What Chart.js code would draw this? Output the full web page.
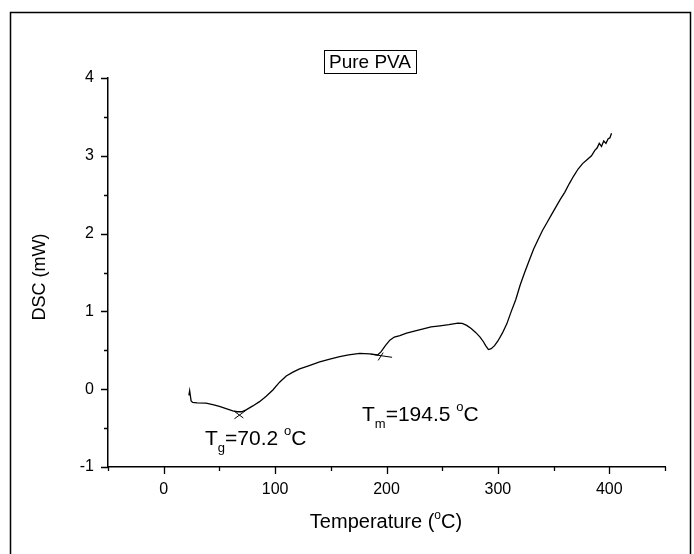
<!DOCTYPE html>
<html>
<head>
<meta charset="utf-8">
<script src="https://cdn.jsdelivr.net/npm/chart.js@4/dist/chart.umd.min.js"></script>
<style>
  body { margin: 0; background: #fff; }
  canvas { display: block; }
</style>
</head>
<body>
<canvas id="dsc" width="694" height="554"></canvas>
<script>
// DSC curve of pure PVA
const temperature = [22.6, 23.3, 24.6, 26, 30, 38, 45, 50, 56, 62, 66, 70, 74, 80, 86, 92, 98, 104,
  110, 116, 122, 130, 140, 150, 158, 166, 176, 185, 192, 195, 199, 203, 207, 212, 218, 225, 233,
  240, 248, 256, 264, 268, 272, 276, 280, 284, 287, 289, 291.5, 294, 297, 300, 304, 308, 312, 316,
  320, 324, 328, 332, 336, 340, 344, 348, 352, 356, 360, 364, 368, 372, 376, 380, 384, 387, 389,
  391, 393, 395, 397, 399, 400.5, 402];
const dsc = [-0.08, -0.02, -0.15, -0.17, -0.175, -0.18, -0.2, -0.22, -0.25, -0.28, -0.29, -0.29,
  -0.265, -0.215, -0.16, -0.09, -0.01, 0.09, 0.17, 0.22, 0.26, 0.3, 0.35, 0.39, 0.42, 0.44, 0.46,
  0.455, 0.44, 0.48, 0.56, 0.63, 0.67, 0.69, 0.72, 0.745, 0.775, 0.8, 0.815, 0.83, 0.85, 0.845,
  0.82, 0.78, 0.73, 0.67, 0.61, 0.56, 0.51, 0.52, 0.56, 0.62, 0.72, 0.84, 1.0, 1.15, 1.34, 1.5,
  1.65, 1.8, 1.92, 2.04, 2.14, 2.24, 2.34, 2.44, 2.53, 2.64, 2.74, 2.83, 2.9, 2.95, 3.0, 3.07,
  3.1, 3.16, 3.12, 3.19, 3.16, 3.22, 3.23, 3.29];

// tangent construction lines at Tg and Tm
const tgLineAx = [63, 71.5], tgLineAy = [-0.28, -0.37];
const tgLineBx = [63.5, 74], tgLineBy = [-0.38, -0.27];
const tmLineAx = [186, 205], tmLineAy = [0.45, 0.41];
const tmLineBx = [192.5, 197], tmLineBy = [0.37, 0.47];

const xTicks = [-50, 0, 50, 100, 150, 200, 250, 300, 350, 400, 450];
const yTicks = [-1, -0.5, 0, 0.5, 1, 1.5, 2, 2.5, 3, 3.5, 4];

const title = 'Pure PVA';
const xTitle = 'Temperature (';
const yTitle = 'DSC (mW)';

const toPoints = (xs, ys) => xs.map((x, i) => ({ x: x, y: ys[i] }));
const FONT = '"Liberation Sans", Arial, sans-serif';

function lineSet(xs, ys, w) {
  return {
    data: toPoints(xs, ys),
    showLine: true,
    borderColor: '#000',
    borderWidth: w,
    pointRadius: 0,
    tension: 0
  };
}

// text with sub/superscripts, e.g. T_g=70.2 °C
function drawRich(ctx, x, y, parts) {
  let cx = x;
  parts.forEach(p => {
    const size = p.size || 21;
    ctx.font = size + 'px ' + FONT;
    ctx.fillText(p.t, cx, y + (p.dy || 0));
    cx += ctx.measureText(p.t).width;
  });
  return cx;
}

const decorations = {
  id: 'decorations',
  afterDraw(chart) {
    const ctx = chart.ctx;
    const xs = chart.scales.x, ys = chart.scales.y;
    ctx.save();
    ctx.strokeStyle = '#000';
    ctx.fillStyle = '#000';

    // outer frame
    ctx.lineWidth = 1.5;
    ctx.strokeRect(10.5, 12.5, 680, 560);

    // tick marks (major long, minor short)
    ctx.lineWidth = 1.3;
    ctx.beginPath();
    const bottom = ys.getPixelForValue(-1);
    xTicks.forEach(v => {
      const px = Math.round(xs.getPixelForValue(v)) + 0.5;
      const len = v % 100 === 0 ? 7 : 4;
      ctx.moveTo(px, bottom);
      ctx.lineTo(px, bottom + len);
    });
    const left = xs.getPixelForValue(-50);
    yTicks.forEach(v => {
      const py = Math.round(ys.getPixelForValue(v)) + 0.5;
      const len = Number.isInteger(v) ? 7 : 4;
      ctx.moveTo(left, py);
      ctx.lineTo(left - len, py);
    });
    ctx.stroke();

    // title box
    ctx.font = '19px ' + FONT;
    ctx.textBaseline = 'alphabetic';
    const tw = ctx.measureText(title).width;
    const cxT = 370;
    ctx.lineWidth = 1;
    ctx.strokeRect(Math.round(cxT - tw / 2 - 5) + 0.5, 50.5, Math.round(tw + 10), 23);
    ctx.textAlign = 'center';
    ctx.fillText(title, cxT, 68);

    // y axis title
    ctx.save();
    ctx.translate(45, 277);
    ctx.rotate(-Math.PI / 2);
    ctx.font = '18px ' + FONT;
    ctx.fillText(yTitle, 0, 0);
    ctx.restore();

    // x axis title with degree superscript
    ctx.textAlign = 'left';
    const partsX = [
      { t: xTitle, size: 20 },
      { t: 'o', size: 12, dy: -9 },
      { t: 'C)', size: 20 }
    ];
    let w = 0;
    partsX.forEach(p => { ctx.font = p.size + 'px ' + FONT; w += ctx.measureText(p.t).width; });
    drawRich(ctx, 386 - w / 2, 528, partsX);

    // annotations
    drawRich(ctx, 205, 445, [
      { t: 'T' }, { t: 'g', size: 13, dy: 7 }, { t: '=70.2 ' }, { t: 'o', size: 13, dy: -10 }, { t: 'C' }
    ]);
    drawRich(ctx, 362, 421, [
      { t: 'T' }, { t: 'm', size: 13, dy: 7 }, { t: '=194.5 ' }, { t: 'o', size: 13, dy: -10 }, { t: 'C' }
    ]);

    ctx.restore();
  }
};

new Chart(document.getElementById('dsc'), {
  type: 'scatter',
  data: {
    datasets: [
      lineSet(temperature, dsc, 1.3),
      lineSet(tgLineAx, tgLineAy, 1),
      lineSet(tgLineBx, tgLineBy, 1),
      lineSet(tmLineAx, tmLineAy, 1),
      lineSet(tmLineBx, tmLineBy, 1)
    ]
  },
  options: {
    responsive: false,
    animation: false,
    layout: { padding: { left: 0, top: 78, right: 29, bottom: 27 } },
    plugins: { legend: { display: false }, tooltip: { enabled: false } },
    scales: {
      x: {
        type: 'linear',
        min: -50,
        max: 450,
        afterFit: s => { s.height = 60; },
        afterBuildTicks: s => { s.ticks = xTicks.map(v => ({ value: v })); },
        grid: { display: true, drawOnChartArea: false, drawTicks: false },
        border: { display: true, color: '#000', width: 1.5 },
        ticks: {
          color: '#000',
          font: { family: FONT, size: 16 },
          padding: 13,
          maxRotation: 0,
          callback: v => (v % 100 === 0 && v >= 0 && v <= 400) ? String(v) : ''
        }
      },
      y: {
        type: 'linear',
        min: -1,
        max: 4,
        afterFit: s => { s.width = 108; },
        afterBuildTicks: s => { s.ticks = yTicks.map(v => ({ value: v })); },
        grid: { display: true, drawOnChartArea: false, drawTicks: false },
        border: { display: true, color: '#000', width: 1.5 },
        ticks: {
          color: '#000',
          font: { family: FONT, size: 16 },
          padding: 14,
          callback: v => Number.isInteger(v) ? String(v) : ''
        }
      }
    }
  },
  plugins: [decorations]
});
</script>
</body>
</html>
